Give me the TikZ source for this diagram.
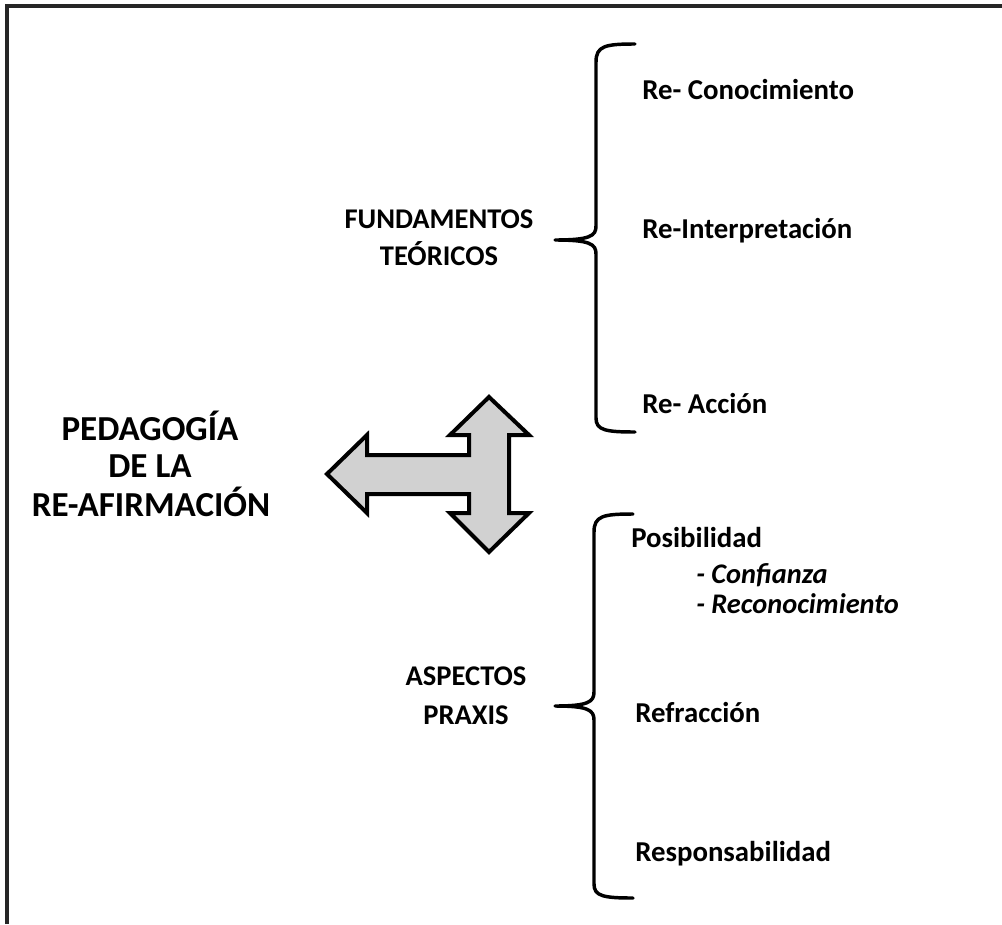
\documentclass[tikz,border=0pt]{standalone}
\usepackage{fontspec}
\setmainfont{Carlito}
\begin{document}
\begin{tikzpicture}[x=0.75pt,y=-0.75pt,
  big/.style={font=\bfseries\fontsize{26.3}{30}\selectfont, anchor=base, inner sep=0pt},
  head/.style={font=\bfseries\fontsize{21.4}{26}\selectfont, anchor=base, inner sep=0pt},
  item/.style={font=\bfseries\fontsize{21.6}{26}\selectfont, anchor=base west, inner sep=0pt},
  sub/.style={font=\bfseries\itshape\fontsize{21.3}{26}\selectfont, anchor=base west, inner sep=0pt},
  brace/.style={line width=2.6pt, line cap=round, line join=round},
  frame/.style={line width=2.4pt, draw=black!85}]
\useasboundingbox (0,0) rectangle (1002,924);
% outer frame (only top and left edges show)
\draw[frame] (7,924) -- (7,6) -- (1002,6);

% title
\node[big] (t1) at (150,440) {PEDAGOGÍA};
\node[big] (t2) at (150,477) {DE LA};
\node[big] (t3) at (151,516) {RE-AFIRMACIÓN};

% three-way block arrow
\draw[line width=3pt, fill=black!18, line join=miter]
  (327,474) -- (367,435) -- (367,455) -- (469,455) -- (469,435) -- (450,435)
  -- (489,397) -- (529,435) -- (509,435) -- (509,513) -- (529,513)
  -- (489,552) -- (450,513) -- (469,513) -- (469,494) -- (367,494)
  -- (367,513) -- cycle;

% upper group
\node[head] (f1) at (439,228) {FUNDAMENTOS};
\node[head] (f2) at (439,265) {TEÓRICOS};
\draw[brace] (635,44) .. controls (605,44) and (596,46) .. (596,62)
  -- (596,226) .. controls (596,236) and (590,240) .. (555,240)
  .. controls (590,240) and (596,244) .. (596,254)
  -- (596,418) .. controls (596,430) and (605,432) .. (635,432);
\node[item] (r1) at (642,99) {Re- Conocimiento};
\node[item] (r2) at (642,238) {Re-Interpretación};
\node[item] (r3) at (642,413) {Re- Acción};

% lower group
\node[head] (a1) at (466,685) {ASPECTOS};
\node[head] (a2) at (466,724) {PRAXIS};
\draw[brace] (633,514) .. controls (603,514) and (594,516) .. (594,532)
  -- (594,692) .. controls (594,702) and (588,706) .. (555,706)
  .. controls (588,706) and (594,710) .. (594,720)
  -- (594,884) .. controls (594,896) and (603,898) .. (633,898);
\node[item] (p1) at (631,547) {Posibilidad};
\node[sub] (p1a) at (696,583) {- Confianza};
\node[sub] (p1b) at (696,613) {- Reconocimiento};
\node[item] (p2) at (635,722) {Refracción};
\node[item] (p3) at (635,861) {Responsabilidad};
\end{tikzpicture}
\end{document}
